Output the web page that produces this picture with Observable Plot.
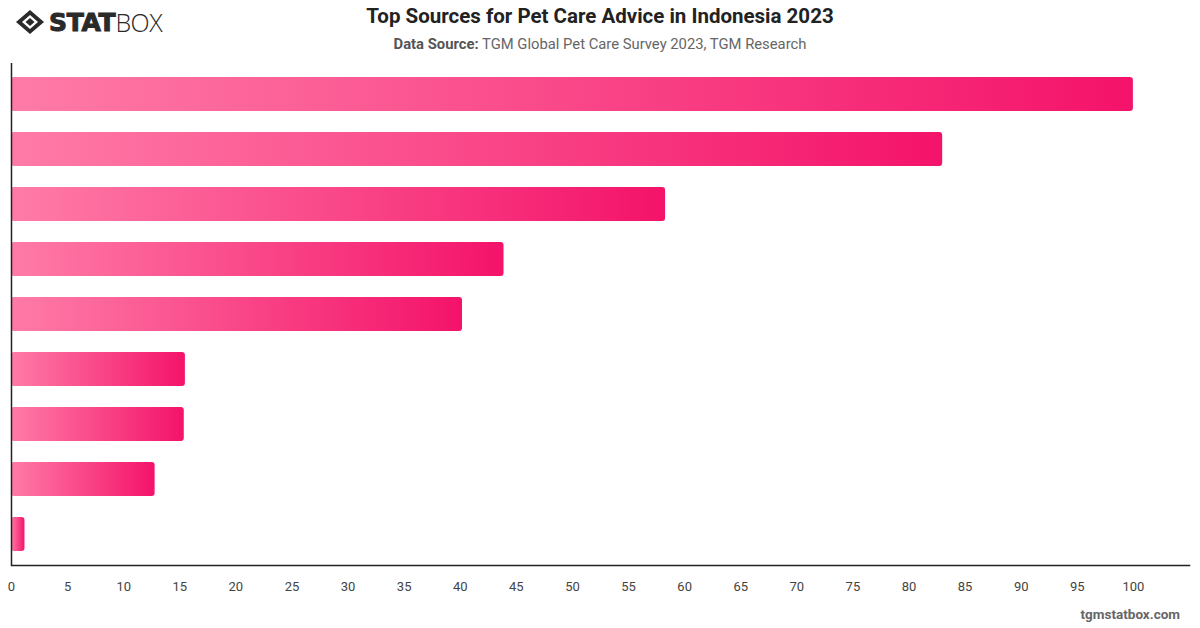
<!DOCTYPE html>
<html>
<head>
<meta charset="utf-8">
<script src="https://cdn.jsdelivr.net/npm/d3@7"></script>
<script src="https://cdn.jsdelivr.net/npm/@observablehq/plot@0.6"></script>
<style>
  html, body { margin: 0; padding: 0; background: #fff; }
  body { width: 1200px; height: 628px; position: relative; overflow: hidden; font-family: Roboto, "Helvetica Neue", Arial, sans-serif; }
  #header { position: absolute; left: 0; top: 0; width: 1200px; height: 60px; }
  #title { position: absolute; left: 0; width: 1200px; top: 4px; text-align: center; font-size: 20.5px; font-weight: 700; color: #222; }
  #subtitle { position: absolute; left: 0; width: 1200px; top: 35px; text-align: center; font-size: 14.8px; color: #666; }
  #subtitle b { color: #555; }
  #logo { position: absolute; left: 15px; top: 6px; height: 32px; display: flex; align-items: center; }
  #logo .stat { font-family: "DejaVu Sans", sans-serif; font-weight: 900; font-size: 25px; color: #2a2a2a; letter-spacing: -0.3px; margin-left: 4px; -webkit-text-stroke: 1px #2a2a2a; }
  #logo .box { font-family: "Open Sans", sans-serif; font-weight: 300; font-size: 25px; color: #2a2a2a; letter-spacing: -0.5px; }
  #chart { position: absolute; left: 0; top: 60px; }
  #footer { position: absolute; right: 20px; top: 606px; font-size: 13.5px; font-weight: 700; color: #666; }
</style>
</head>
<body>
<div id="header">
  <div id="logo">
    <svg width="30" height="26" viewBox="0 0 30 26">
      <polygon points="15,1 29,13 15,25 1,13" fill="#2a2a2a"/>
      <polygon points="15,6 23,13 15,20 7,13" fill="#fff"/>
      <polygon points="15,9 19.5,13 15,17 10.5,13" fill="#2a2a2a"/>
    </svg>
    <span class="stat">STAT</span><span class="box">BOX</span>
  </div>
  <div id="title">Top Sources for Pet Care Advice in Indonesia 2023</div>
  <div id="subtitle"><b>Data Source:</b> TGM Global Pet Care Survey 2023, TGM Research</div>
</div>
<div id="chart"></div>
<div id="footer">tgmstatbox.com</div>
<script>
const categories = ["A", "B", "C", "D", "E", "F", "G", "H", "I"];
const values = [100, 83.0, 58.3, 43.9, 40.2, 15.5, 15.4, 12.8, 1.2];
const xTicks = [0, 5, 10, 15, 20, 25, 30, 35, 40, 45, 50, 55, 60, 65, 70, 75, 80, 85, 90, 95, 100];

const data = categories.map((c, i) => ({category: c, value: values[i]}));

const chart = Plot.plot({
  width: 1200,
  height: 568,
  marginLeft: 11,
  marginRight: 11,
  marginTop: 3,
  marginBottom: 63,
  style: {fontFamily: "Roboto, Helvetica, Arial, sans-serif", fontSize: "13px", color: "#444", background: "transparent"},
  x: {domain: [0, 105], ticks: xTicks, tickSize: 0, tickPadding: 16, label: null},
  y: {domain: categories, axis: null, paddingInner: 0.38, paddingOuter: 0.2},
  marks: [
    Plot.barX(data, {x: "value", y: "category", fill: "url(#barGrad)", rx: 3}),
    Plot.ruleX([0], {stroke: "#222", strokeWidth: 1.5}),
    Plot.frame({anchor: "bottom", stroke: "#222", strokeWidth: 1.5})
  ]
});

const ns = "http://www.w3.org/2000/svg";
const defs = document.createElementNS(ns, "defs");
const grad = document.createElementNS(ns, "linearGradient");
grad.setAttribute("id", "barGrad");
grad.setAttribute("x1", "0"); grad.setAttribute("y1", "0");
grad.setAttribute("x2", "1"); grad.setAttribute("y2", "0");
[["0%", "#ff7ba7"], ["100%", "#f4136a"]].forEach(([o, c]) => {
  const s = document.createElementNS(ns, "stop");
  s.setAttribute("offset", o);
  s.setAttribute("stop-color", c);
  grad.appendChild(s);
});
defs.appendChild(grad);
chart.insertBefore(defs, chart.firstChild);
document.getElementById("chart").appendChild(chart);
</script>
</body>
</html>
